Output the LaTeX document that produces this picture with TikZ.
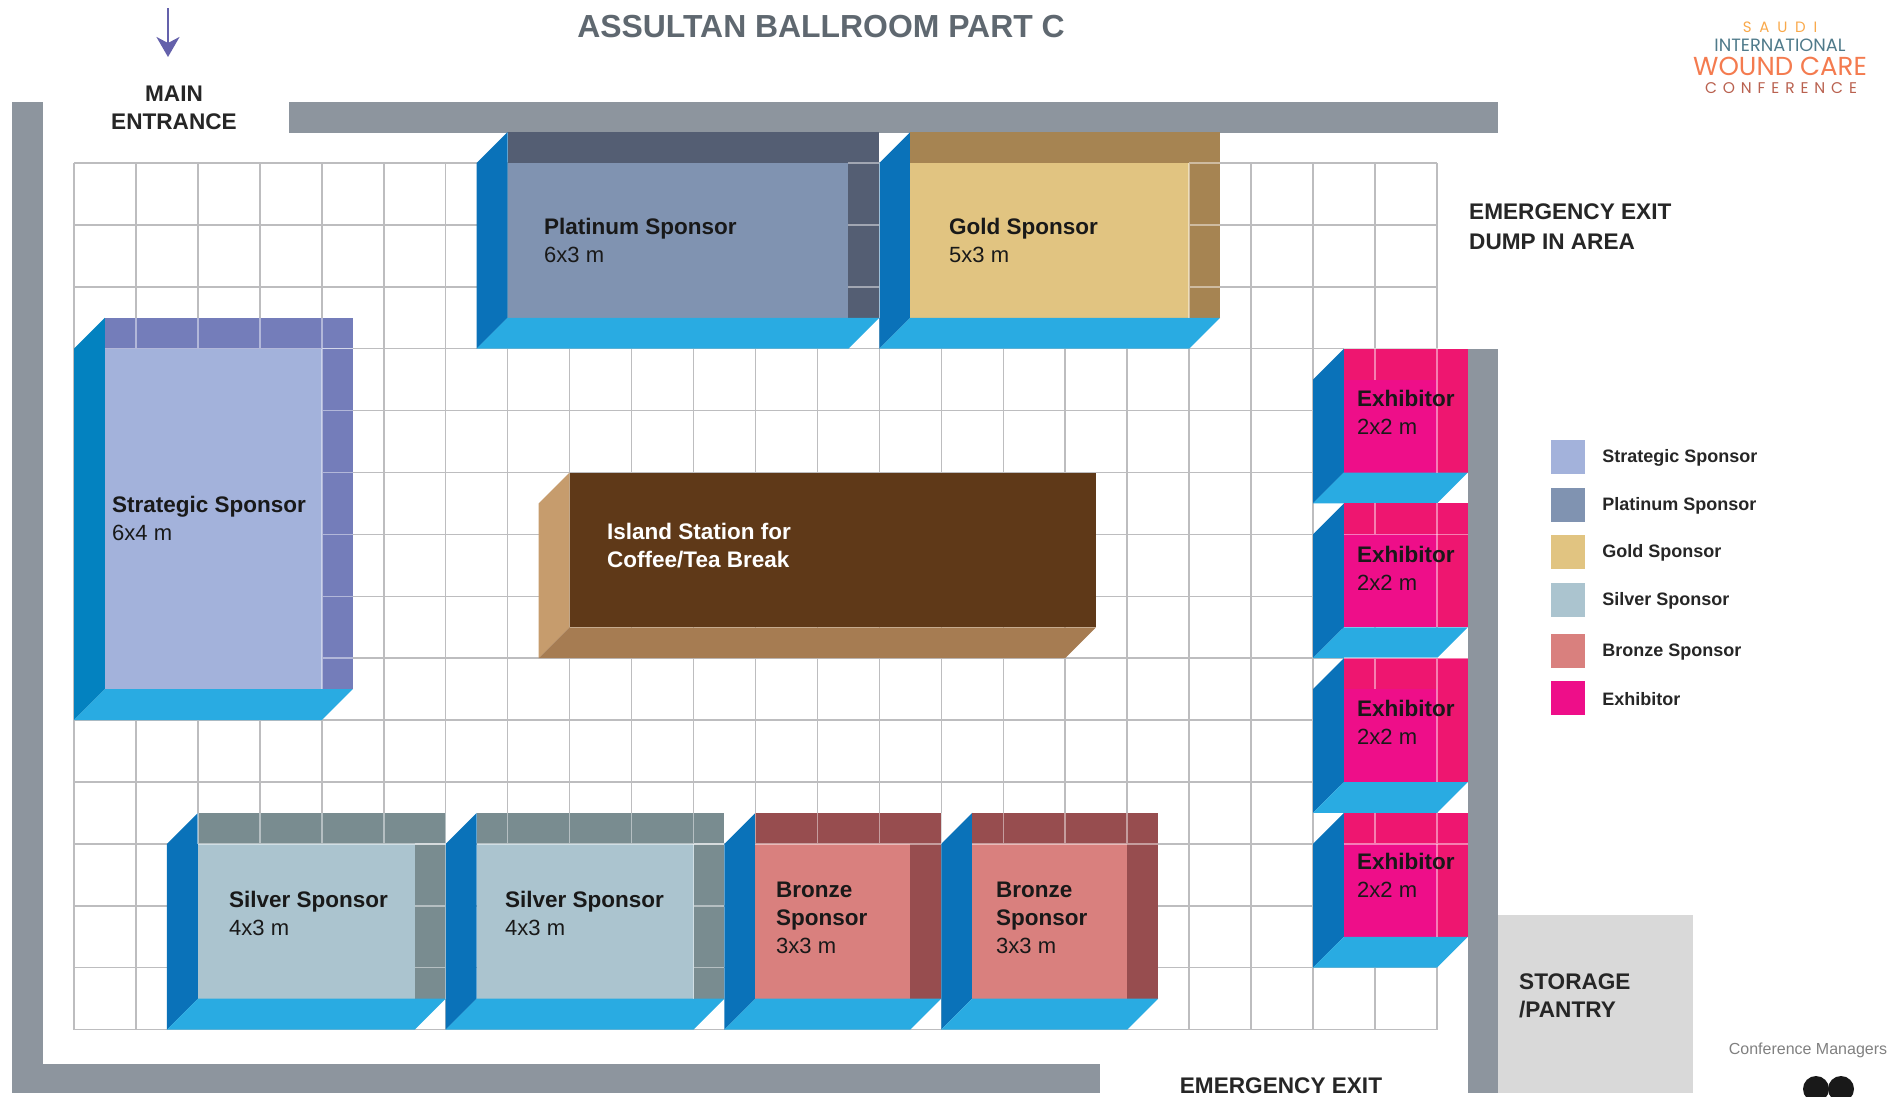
\documentclass[tikz,border=0pt]{standalone}
\usepackage{fontspec}
\setmainfont{Liberation Sans}
\newfontfamily\logofont{Poppins}
\usetikzlibrary{positioning,arrows.meta}
\definecolor{wallgray}{HTML}{8D959E}
\definecolor{gridgray}{HTML}{BDBDBF}
\definecolor{titlegray}{HTML}{5F6870}
\definecolor{floorblue}{HTML}{29ABE2}
\definecolor{sideblue}{HTML}{0A72B9}
\definecolor{stratside}{HTML}{0382C0}
\definecolor{stratpanel}{HTML}{A3B2DB}
\definecolor{stratwall}{HTML}{747DBA}
\definecolor{platpanel}{HTML}{8093B1}
\definecolor{platwall}{HTML}{545E73}
\definecolor{goldpanel}{HTML}{E1C481}
\definecolor{goldwall}{HTML}{A68452}
\definecolor{silverpanel}{HTML}{ABC4CF}
\definecolor{silverwall}{HTML}{798C90}
\definecolor{bronzepanel}{HTML}{D9807E}
\definecolor{bronzewall}{HTML}{974D4F}
\definecolor{exhibpanel}{HTML}{EE0E89}
\definecolor{exhibwall}{HTML}{EE1670}
\definecolor{coffeetop}{HTML}{5F3918}
\definecolor{coffeeside}{HTML}{C69C6D}
\definecolor{coffeefront}{HTML}{A67C52}
\definecolor{arrowpurple}{HTML}{6461AB}
\definecolor{logoorange}{HTML}{F9A94B}
\definecolor{logoteal}{HTML}{4F7A8A}
\definecolor{logocoral}{HTML}{F47B4F}
\definecolor{logorust}{HTML}{B9614F}
\tikzset{
    wallbar/.style={fill=wallgray},
    gridline/.style={draw=gridgray,line width=1.5pt},
    wallline/.style={draw=white,draw opacity=.45,line width=1.5pt},
    hall/.style={font=\bfseries\fontsize{22.6}{28}\selectfont,text=black!85,align=left,inner sep=0pt},
    boothtext/.style={font=\fontsize{22}{28}\selectfont,text=black!90,align=left,inner sep=0pt,anchor=west},
    legendswatch/.style={minimum size=34pt,inner sep=0pt},
    legendtext/.style={font=\bfseries\fontsize{18}{22}\selectfont,text=black!85,inner sep=0pt},
    logotext/.style={font=\logofont,inner sep=0pt},
}
\newcommand{\bname}[1]{{\bfseries\fontsize{22.5}{28}\selectfont #1}}
% x y w h panel wall side, (x,y) is the inner corner of the booth
\newcommand{\booth}[7]{
    \fill[#7] (#1,#2-.5) -- (#1,#2+#4-.5) -- (#1-.5,#2+#4) -- (#1-.5,#2) -- cycle;
    \fill[#6] (#1,#2-.5) rectangle (#1+#3,#2);
    \fill[#6] (#1+#3-.5,#2) rectangle (#1+#3,#2+#4-.5);
    \fill[#5] (#1,#2) rectangle (#1+#3-.5,#2+#4-.5);
    \fill[floorblue] (#1,#2+#4-.5) -- (#1+#3,#2+#4-.5) -- (#1+#3-.5,#2+#4) -- (#1-.5,#2+#4) -- cycle;
}
\begin{document}
\begin{tikzpicture}[x=1pt,y=-1pt]
    \useasboundingbox (0,0) rectangle (1896,1096);
    % walls
    \fill[wallbar] (12,102) rectangle (43,1093);
    \fill[wallbar] (12,1064) rectangle (1100,1093);
    \fill[wallbar] (289,102) rectangle (1498,133);
    \fill[wallbar] (1468,349) rectangle (1498,1093);
    \fill[black!15] (1498,915) rectangle (1693,1093);
    % floor plan, one unit is one grid cell
    \begin{scope}[shift={(74,163)},x=61.95pt,y=61.9pt,yscale=-1]
        \draw[gridline,step=1] (0,0) grid (22,14);
        \booth{7}{0}{6}{3}{platpanel}{platwall}{sideblue}
        \booth{13.5}{0}{5}{3}{goldpanel}{goldwall}{sideblue}
        \booth{.5}{3}{4}{6}{stratpanel}{stratwall}{stratside}
        \booth{2}{11}{4}{3}{silverpanel}{silverwall}{sideblue}
        \booth{6.5}{11}{4}{3}{silverpanel}{silverwall}{sideblue}
        \booth{11}{11}{3}{3}{bronzepanel}{bronzewall}{sideblue}
        \booth{14.5}{11}{3}{3}{bronzepanel}{bronzewall}{sideblue}
        \foreach \y in {3.5,6,8.5,11} {
            \booth{20.5}{\y}{2}{2}{exhibpanel}{exhibwall}{sideblue}
            \draw[wallline,step=1] (20.5,\y-.5) grid (22.5,\y);
            \draw[wallline] (22,\y) -- (22,\y+1.5);
        }
        % grid seen through the walls
        \foreach \xa/\ya/\xb/\yb in {.5/2.5/4.5/3,4/3/4.5/8.5,12.5/0/13/2.5,18/0/18.5/2.5,
            2/10.5/6/11,5.5/11/6/13.5,6.5/10.5/10.5/11,10/11/10.5/13.5,
            11/10.5/14/11,14.5/10.5/17.5/11}
            \draw[wallline,step=1] (\xa,\ya) grid (\xb,\yb);
        % coffee island
        \fill[coffeeside] (8,5) -- (8,7.5) -- (7.5,8) -- (7.5,5.5) -- cycle;
        \fill[coffeefront] (8,7.5) -- (16.5,7.5) -- (16,8) -- (7.5,8) -- cycle;
        \fill[coffeetop] (8,5) rectangle (16.5,7.5);
    \end{scope}
    % booth labels
    \node[boothtext] (strategic) at (112,518) {\bname{Strategic Sponsor}\\6x4 m};
    \node[boothtext] (platinum) at (544,240) {\bname{Platinum Sponsor}\\6x3 m};
    \node[boothtext] (gold) at (949,240) {\bname{Gold Sponsor}\\5x3 m};
    \node[boothtext,text=white] (island) at (607,546) {\bname{Island Station for}\\\bname{Coffee/Tea Break}};
    \node[boothtext] (silverA) at (229,913) {\bname{Silver Sponsor}\\4x3 m};
    \node[boothtext] (silverB) at (505,913) {\bname{Silver Sponsor}\\4x3 m};
    \node[boothtext] (bronzeA) at (776,918) {\bname{Bronze}\\\bname{Sponsor}\\3x3 m};
    \node[boothtext] (bronzeB) at (996,918) {\bname{Bronze}\\\bname{Sponsor}\\3x3 m};
    \node[boothtext] (exhibA) at (1357,412) {\bname{Exhibitor}\\2x2 m};
    \node[boothtext] (exhibB) at (1357,568) {\bname{Exhibitor}\\2x2 m};
    \node[boothtext] (exhibC) at (1357,722) {\bname{Exhibitor}\\2x2 m};
    \node[boothtext] (exhibD) at (1357,875) {\bname{Exhibitor}\\2x2 m};
    % hall labels
    \node[font=\bfseries\fontsize{31.9}{36}\selectfont,text=titlegray,inner sep=0pt] (title) at (821,27) {ASSULTAN BALLROOM PART C};
    \node[hall,align=center] (entrance) at (174,108) {MAIN\\ENTRANCE};
    \node[hall,anchor=west] (dumpin) at (1469,227) {EMERGENCY EXIT\\[2pt]DUMP IN AREA};
    \node[hall,anchor=west] (storage) at (1519,996) {STORAGE\\/PANTRY};
    \node[hall] (exit) at (1281,1086) {EMERGENCY EXIT};
    % entrance arrow
    \coordinate (arrowtop) at (168,8);
    \coordinate (arrowtip) at (168,57);
    \draw[arrowpurple,line width=2.5pt,-{Stealth[length=20pt,width=23pt,inset=6pt]}] (arrowtop) -- (arrowtip);
    % legend
    \foreach \i/\legname/\legcol/\legy in {1/Strategic Sponsor/stratpanel/457,2/Platinum Sponsor/platpanel/505,
        3/Gold Sponsor/goldpanel/552,4/Silver Sponsor/silverpanel/600,
        5/Bronze Sponsor/bronzepanel/651,6/Exhibitor/exhibpanel/698} {
        \node[legendswatch,fill=\legcol] (swatch\i) at (1568,\legy) {};
        \node[legendtext,right=17pt of swatch\i,yshift=-1pt] (legend\i) {\legname};
    }
    % logo
    \node[logotext,text=logoorange,font=\logofont\fontsize{15}{15}\selectfont\addfontfeature{LetterSpace=52}] (logoA) at (1780,27) {SAUDI};
    \node[logotext,text=logoteal,font=\logofont\fontsize{17.8}{18}\selectfont] (logoB) at (1780,45) {INTERNATIONAL};
    \node[logotext,text=logocoral,font=\logofont\fontsize{26}{26}\selectfont] (logoC) at (1780,66) {WOUND CARE};
    \node[logotext,text=logorust,font=\logofont\fontsize{15.5}{15.5}\selectfont\addfontfeature{LetterSpace=38}] (logoD) at (1781,88) {CONFERENCE};
    \node[font=\fontsize{16}{20}\selectfont,text=black!50,inner sep=0pt] (managers) at (1808,1050) {Conference Managers};
    \begin{scope}
        \clip (1780,1060) rectangle (1880,1096);
        \fill[black!90] (1816,1089) circle (13);
        \fill[black!90] (1841,1089) circle (13);
    \end{scope}
\end{tikzpicture}
\end{document}
